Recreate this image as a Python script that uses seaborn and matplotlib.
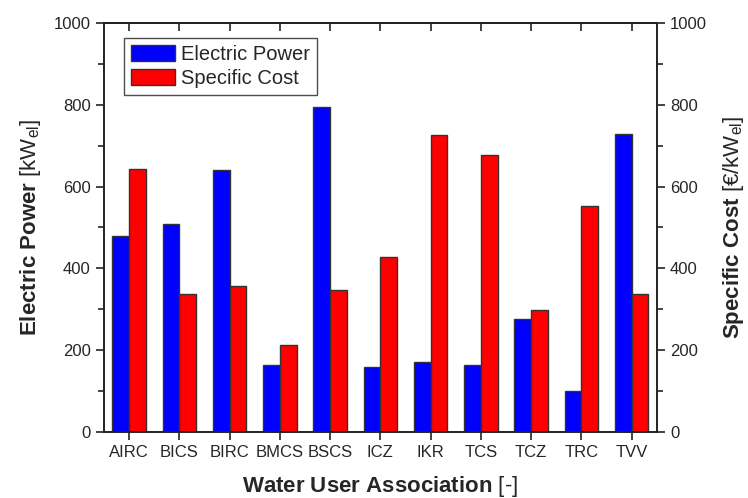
import pandas as pd
import seaborn as sns
import matplotlib.pyplot as plt
from matplotlib.ticker import MultipleLocator

sns.set_style('ticks')
plt.rcParams['font.family'] = ['Liberation Sans', 'DejaVu Sans']
plt.rcParams['mathtext.fontset'] = 'custom'
plt.rcParams['mathtext.rm'] = 'Liberation Sans'
plt.rcParams['mathtext.bf'] = 'Liberation Sans:bold'
plt.rcParams['mathtext.it'] = 'Liberation Sans:italic'

associations = ['AIRC', 'BICS', 'BIRC', 'BMCS', 'BSCS', 'ICZ', 'IKR', 'TCS', 'TCZ', 'TRC', 'TVV']
electric_power = [480, 508, 641, 165, 795, 160, 172, 163, 277, 100, 728]
specific_cost = [643, 338, 358, 212, 348, 428, 727, 678, 298, 553, 338]

df = pd.DataFrame({'association': associations,
                   'Electric Power': electric_power,
                   'Specific Cost': specific_cost})
df_long = df.melt(id_vars='association', var_name='series', value_name='value')

fig = plt.figure(figsize=(7.48, 4.98), dpi=100)
ax = fig.add_axes([0.139, 0.1325, 0.739, 0.8215])

sns.barplot(data=df_long, x='association', y='value', hue='series',
            palette={'Electric Power': '#0000ff', 'Specific Cost': '#ff0000'},
            width=0.67, gap=0, edgecolor='#333333', linewidth=1.0,
            saturation=1, ax=ax)

ax.set_xlim(-0.5, len(associations) - 0.5)
ax.set_ylim(0, 1000)
ax.yaxis.set_major_locator(MultipleLocator(200))
ax.yaxis.set_minor_locator(MultipleLocator(100))
ax.tick_params(axis='y', which='both', direction='out', labelsize=12, width=1.2, color='#222222')
ax.tick_params(axis='y', which='major', length=6)
ax.tick_params(axis='y', which='minor', length=4)
ax.tick_params(axis='x', direction='out', length=6, width=1.2, labelsize=12, color='#222222')
for spine in ax.spines.values():
    spine.set_linewidth(1.2)
    spine.set_color('#222222')

# ticks on the top edge pointing inward
top = ax.secondary_xaxis('top')
top.set_xticks(range(len(associations)))
top.tick_params(axis='x', direction='in', length=6, width=1.2, labeltop=False, color='#222222')
top.spines['top'].set_linewidth(1.2)
top.spines['top'].set_color('#222222')

ax.set_xlabel('$\\mathbf{Water\\ User\\ Association}$ [-]', fontsize=16, labelpad=10)
ax.set_ylabel('$\\mathbf{Electric\\ Power}$ [kW$_\\mathrm{el}$]', fontsize=16, labelpad=8)

ax2 = ax.twinx()
ax2.set_ylim(0, 1000)
ax2.yaxis.set_major_locator(MultipleLocator(200))
ax2.yaxis.set_minor_locator(MultipleLocator(100))
ax2.tick_params(axis='y', which='both', direction='out', labelsize=12, width=1.2, color='#222222')
ax2.tick_params(axis='y', which='major', length=6)
ax2.tick_params(axis='y', which='minor', length=4)
for spine in ax2.spines.values():
    spine.set_linewidth(1.2)
    spine.set_color('#222222')
ax2.set_ylabel('$\\mathbf{Specific\\ Cost}$ [€/kW$_\\mathrm{el}$]', fontsize=16, labelpad=10)

leg = ax.legend(loc='upper left', bbox_to_anchor=(0.036, 0.963), borderaxespad=0,
                fontsize=14.5, frameon=True, fancybox=False, edgecolor='#222222',
                handlelength=2.2, handleheight=0.85, borderpad=0.35,
                labelspacing=0.25, handletextpad=0.3, title=None)
leg.get_frame().set_linewidth(1.0)

fig.savefig('out.png', dpi=100)
